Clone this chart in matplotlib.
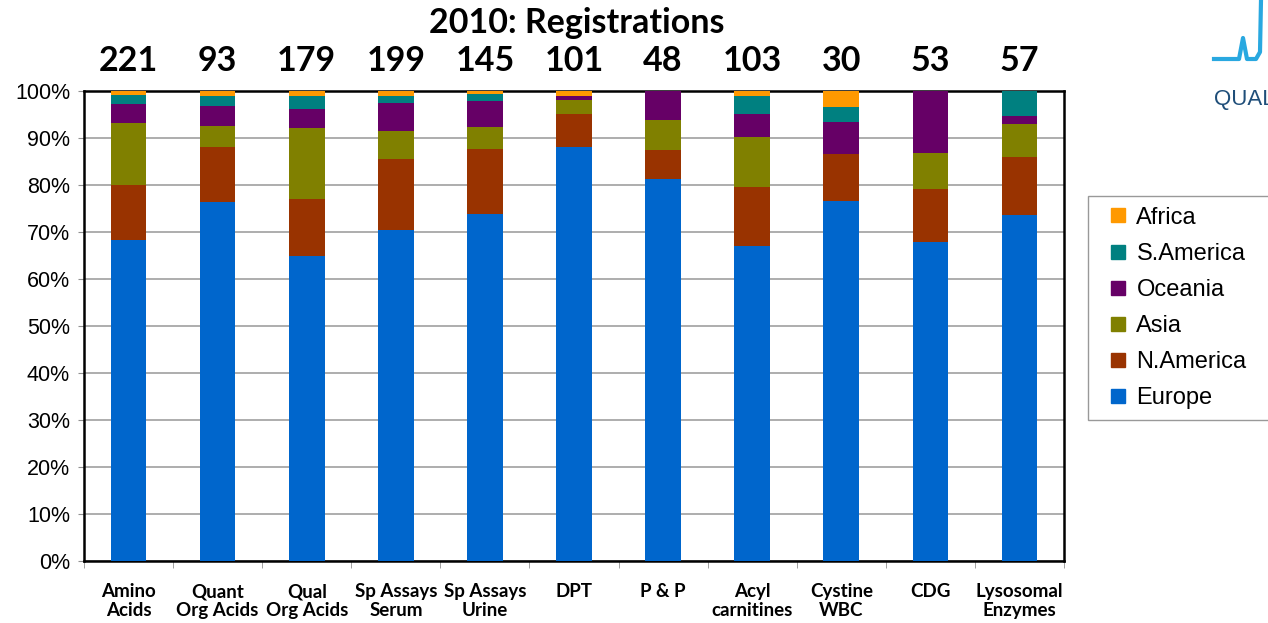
import numpy as np
import matplotlib.pyplot as plt
from matplotlib.lines import Line2D

# Категории (схемы) и число регистраций по регионам
categories = ['Amino\nAcids', 'Quant\nOrg Acids', 'Qual\nOrg Acids', 'Sp Assays\nSerum',
              'Sp Assays\nUrine', 'DPT', 'P & P', 'Acyl\ncarnitines', 'Cystine\nWBC',
              'CDG', 'Lysosomal\nEnzymes']
europe    = [151, 71, 116, 140, 107, 89, 39, 69, 23, 36, 42]
n_america = [26, 11, 22, 30, 20, 7, 3, 13, 3, 6, 7]
asia      = [29, 4, 27, 12, 7, 3, 3, 11, 0, 4, 4]
oceania   = [9, 4, 7, 12, 8, 1, 3, 5, 2, 7, 1]
s_america = [4, 2, 5, 3, 2, 0, 0, 4, 1, 0, 3]
africa    = [2, 1, 2, 2, 1, 1, 0, 1, 1, 0, 0]

regions = ['Europe', 'N.America', 'Asia', 'Oceania', 'S.America', 'Africa']
colors = ['#0066CC', '#993300', '#808000', '#660066', '#008080', '#FF9900']
counts = np.array([europe, n_america, asia, oceania, s_america, africa], dtype=float)
totals = counts.sum(axis=0)
percent = counts / totals * 100

plt.rcParams['font.family'] = ['Liberation Sans', 'DejaVu Sans']

fig = plt.figure(figsize=(12.68, 6.23), dpi=100)
ax = fig.add_axes([84 / 1268, 1 - 561 / 623, 980 / 1268, 470 / 623])

x = np.arange(len(categories))
bottom = np.zeros(len(categories))
for name, col, vals in zip(regions, colors, percent):
    ax.bar(x, vals, 0.4, bottom=bottom, color=col, label=name, zorder=3)
    bottom += vals

# Оси и сетка
ax.set_xlim(-0.5, len(categories) - 0.5)
ax.set_ylim(0, 100)
ax.set_yticks(np.arange(0, 101, 10))
ax.set_yticklabels([f'{v}%' for v in range(0, 101, 10)], fontsize=15.5)
ax.yaxis.grid(True, color='#a0a0a0', linewidth=1.2, zorder=0)
ax.tick_params(axis='y', length=4, color='#909090', pad=6)

ax.set_xticks(x)
ax.set_xticklabels(categories, fontsize=13.5, fontweight='bold', family='Lato',
                   linespacing=1.15)
ax.set_xticks(np.arange(-0.5, len(categories), 1), minor=True)
ax.tick_params(axis='x', which='major', length=0, pad=16)
ax.tick_params(axis='x', which='minor', length=5, color='#909090')

for s in ax.spines.values():
    s.set_linewidth(1.8)
    s.set_color('black')

# Общее число регистраций над столбиками
for i, t in enumerate(totals):
    ax.text(i, 106.3, f'{int(t)}', ha='center', va='center', fontsize=24.5,
            fontweight='bold', family='Lato', clip_on=False)

fig.text(0.455, 0.963, '2010: Registrations', ha='center', va='center',
         fontsize=24.5, fontweight='bold', family='Lato')

# Легенда (в обратном порядке, как в оригинале)
handles = [Line2D([], [], marker='s', linestyle='', markersize=9.5, color=c)
           for c in colors[::-1]]
leg = fig.legend(handles, regions[::-1], loc='upper left',
                 bbox_to_anchor=(1088 / 1268, 1 - 196 / 623, 200 / 1268, 0.0),
                 mode='expand', fontsize=17,
                 frameon=True, fancybox=False, edgecolor='#808080',
                 handlelength=1.6, handletextpad=0.0,
                 labelspacing=0.6, borderpad=0.45, borderaxespad=0)
leg.get_frame().set_linewidth(1.0)

# Фрагмент логотипа справа вверху
fig.add_artist(Line2D([1214 / 1268, 1239 / 1268, 1243 / 1268, 1247 / 1268, 1256 / 1268, 1260 / 1268, 1261 / 1268],
                      [1 - 59 / 623, 1 - 59 / 623, 1 - 38 / 623, 1 - 59 / 623, 1 - 59 / 623, 1 - 52 / 623, 1.0],
                      color='#29a8e0', linewidth=3))
fig.text(1214 / 1268, 1 - 100 / 623, 'QUALITY', fontsize=16, color='#1f4e79',
         va='center', ha='left')

fig.savefig('out.png', dpi=100)
